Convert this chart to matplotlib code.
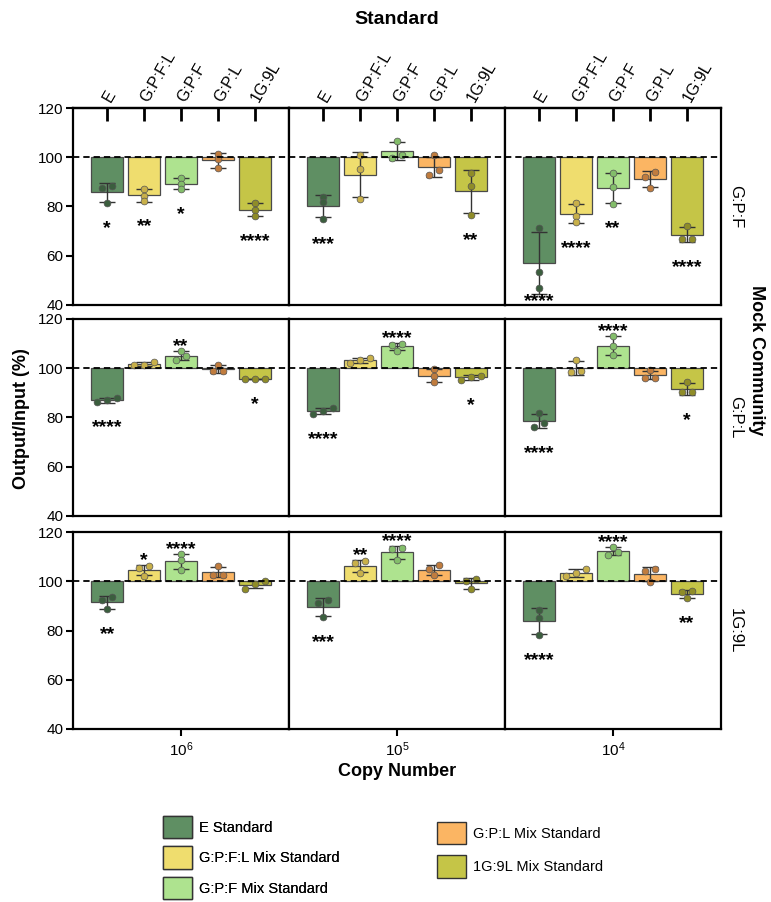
import numpy as np
import matplotlib
matplotlib.use('Agg')
import matplotlib.pyplot as plt
import matplotlib.patches as mpatches

plt.rcParams['font.family'] = ['Liberation Sans', 'DejaVu Sans']
plt.rcParams['mathtext.default'] = 'regular'

# labels
standards = ['E', 'G:P:F:L', 'G:P:F', 'G:P:L', '1G:9L']
legend_names = ['E Standard', 'G:P:F:L Mix Standard', 'G:P:F Mix Standard',
                'G:P:L Mix Standard', '1G:9L Mix Standard']
mock_rows = ['G:P:F', 'G:P:L', '1G:9L']
copy_numbers = ['$10^6$', '$10^5$', '$10^4$']

bar_colors = ['#5f8f63', '#efdd6e', '#aee38f', '#fbb563', '#c5c547']
dot_colors = ['#3b5e3e', '#c8b04a', '#83bd6a', '#c07c3e', '#8f8c28']

# replicates (Output/Input %), one list per standard
gpf_1e6 = [[88.2, 87.6, 81.4], [87.2, 84.2, 82.2], [91.4, 89.3, 87.1], [101.5, 99.3, 95.6], [81.6, 78.4, 76.3]]
gpf_1e5 = [[83.8, 81.8, 75.0], [100.8, 95.1, 82.9], [106.8, 101.0, 99.7], [100.8, 94.8, 92.9], [93.7, 88.2, 76.6]]
gpf_1e4 = [[71.2, 53.3, 46.9], [81.6, 76.0, 73.8], [93.6, 87.9, 81.2], [94.0, 92.1, 87.6], [72.0, 66.8, 66.8]]

gpl_1e6 = [[88.0, 87.0, 86.1], [102.6, 101.5, 101.2], [107.2, 104.9, 103.4], [101.4, 98.8, 98.7], [95.7, 95.6, 95.6]]
gpl_1e5 = [[83.7, 82.6, 81.5], [104.2, 103.5, 102.0], [109.7, 109.6, 107.2], [99.7, 96.8, 94.3], [97.0, 96.5, 95.3]]
gpl_1e4 = [[81.8, 77.9, 76.0], [103.5, 99.0, 98.3], [113.1, 109.2, 105.3], [99.1, 96.2, 96.2], [94.6, 90.2, 90.2]]

g9l_1e6 = [[93.5, 92.4, 88.6], [106.0, 105.3, 102.3], [111.0, 108.5, 104.6], [106.1, 102.7, 102.7], [99.9, 98.9, 97.0]]
g9l_1e5 = [[92.2, 91.2, 85.4], [108.1, 107.3, 103.4], [113.4, 113.2, 108.5], [106.5, 105.0, 102.4], [101.1, 99.9, 96.7]]
g9l_1e4 = [[88.5, 85.2, 78.2], [105.0, 103.3, 102.0], [114.1, 111.8, 110.7], [104.8, 104.3, 99.5], [95.9, 95.5, 93.1]]

# significance marks
sig_gpf = [['*', '**', '*', '', '****'], ['***', '', '', '', '**'], ['****', '****', '**', '', '****']]
sig_gpl = [['****', '', '**', '', '*'], ['****', '', '****', '', '*'], ['****', '', '****', '', '*']]
sig_g9l = [['**', '*', '****', '', ''], ['***', '**', '****', '', ''], ['****', '', '****', '', '**']]

panels = [[gpf_1e6, gpf_1e5, gpf_1e4],
          [gpl_1e6, gpl_1e5, gpl_1e4],
          [g9l_1e6, g9l_1e5, g9l_1e4]]
sigs = [sig_gpf, sig_gpl, sig_g9l]


def swarm(vals, d=0.27, thr=2.0):
    # spread points that sit too close to each other
    order = np.argsort(vals)
    offs = np.zeros(len(vals))
    groups = [[order[0]]]
    for k in order[1:]:
        if vals[k] - vals[groups[-1][-1]] < thr:
            groups[-1].append(k)
        else:
            groups.append([k])
    for g in groups:
        n = len(g)
        for i, k in enumerate(g):
            offs[k] = (i - (n - 1) / 2) * d
    return offs


fig = plt.figure(figsize=(7.71, 9.02), dpi=100)

W, H = 771, 902
left_px = 73
col_w = 216
row_tops = [108, 319, 532]
row_h = 197

x = np.arange(len(standards))

for r in range(3):
    for c in range(3):
        ax = fig.add_axes([(left_px + c * col_w) / W, 1 - (row_tops[r] + row_h) / H,
                           col_w / W, row_h / H])
        data = panels[r][c]
        for i in range(5):
            vals = np.array(data[i])
            m = vals.mean()
            sd = vals.std(ddof=1)
            ax.bar(x[i], m - 100, bottom=100, width=0.88, color=bar_colors[i],
                   edgecolor='#4a4a4a', linewidth=0.9, zorder=2)
            ax.errorbar(x[i], m, yerr=sd, color='#333333', elinewidth=1,
                        capsize=5.5, capthick=1, zorder=3)
            ax.scatter(x[i] + swarm(vals), vals, s=24, color=dot_colors[i],
                       edgecolor='#555555', linewidth=0.5, zorder=4)
            s = sigs[r][c][i]
            if s:
                if m < 100:
                    low = min(m - sd, vals.min())
                    yc = max(low - 7.5, 44)
                else:
                    high = max(m + sd, vals.max())
                    yc = high + 4.5
                ax.text(x[i], yc - 4.6, s, ha='center', va='baseline',
                        fontsize=14, fontweight='bold', zorder=5)
        ax.axhline(100, color='black', linewidth=1.3, linestyle=(0, (3.5, 2.2)), zorder=6)
        ax.set_xlim(-0.93, 4.93)
        ax.set_ylim(40, 120)
        for sp in ax.spines.values():
            sp.set_linewidth(1.6)

        if c == 0:
            ax.set_yticks([40, 60, 80, 100, 120])
            ax.tick_params(axis='y', direction='out', length=5, width=1.5,
                           labelsize=11, pad=2)
        else:
            ax.set_yticks([])

        if r == 2:
            ax.set_xticks([2])
            ax.set_xticklabels([copy_numbers[c]])
            ax.tick_params(axis='x', direction='out', length=5, width=1.5,
                           labelsize=11, pad=3)
        else:
            ax.set_xticks([])

        if r == 0:
            sec = ax.secondary_xaxis('top')
            sec.set_xticks(x)
            sec.set_xticklabels(standards, rotation=60, ha='left', va='center',
                                rotation_mode='anchor', fontsize=11.5)
            sec.tick_params(axis='x', direction='in', length=9, width=2, pad=5)
            sec.spines['top'].set_linewidth(1.6)

        if c == 2:
            ax.yaxis.set_label_position('right')
            ax.set_ylabel(mock_rows[r], rotation=270, fontsize=12, labelpad=16)

mid_x = (left_px + 1.5 * col_w) / W
fig.text(mid_x, 1 - 20 / H, 'Standard', ha='center', va='center',
         fontsize=14, fontweight='bold')
fig.text(mid_x, 1 - 772 / H, 'Copy Number', ha='center', va='center',
         fontsize=13, fontweight='bold')
fig.text(22 / W, 1 - 419 / H, 'Output/Input (%)', ha='center', va='center',
         rotation=90, fontsize=13, fontweight='bold')
fig.text(757 / W, 1 - 360 / H, 'Mock Community', ha='center', va='center',
         rotation=270, fontsize=13, fontweight='bold')

handles = [mpatches.Patch(facecolor=bar_colors[i], edgecolor='#333333', linewidth=1,
                          label=legend_names[i]) for i in range(5)]
leg1 = fig.legend(handles=handles[:3], loc='upper left',
                  bbox_to_anchor=(157 / W, 1 - 810 / H), frameon=False,
                  fontsize=10.5, handlelength=2.0, handleheight=2.0,
                  labelspacing=0.55, handletextpad=0.5, borderaxespad=0)
leg2 = fig.legend(handles=handles[3:], loc='upper left',
                  bbox_to_anchor=(431 / W, 1 - 816 / H), frameon=False,
                  fontsize=10.5, handlelength=2.0, handleheight=2.0,
                  labelspacing=0.75, handletextpad=0.5, borderaxespad=0)
fig.add_artist(leg1)

plt.savefig('out.png', dpi=100)
